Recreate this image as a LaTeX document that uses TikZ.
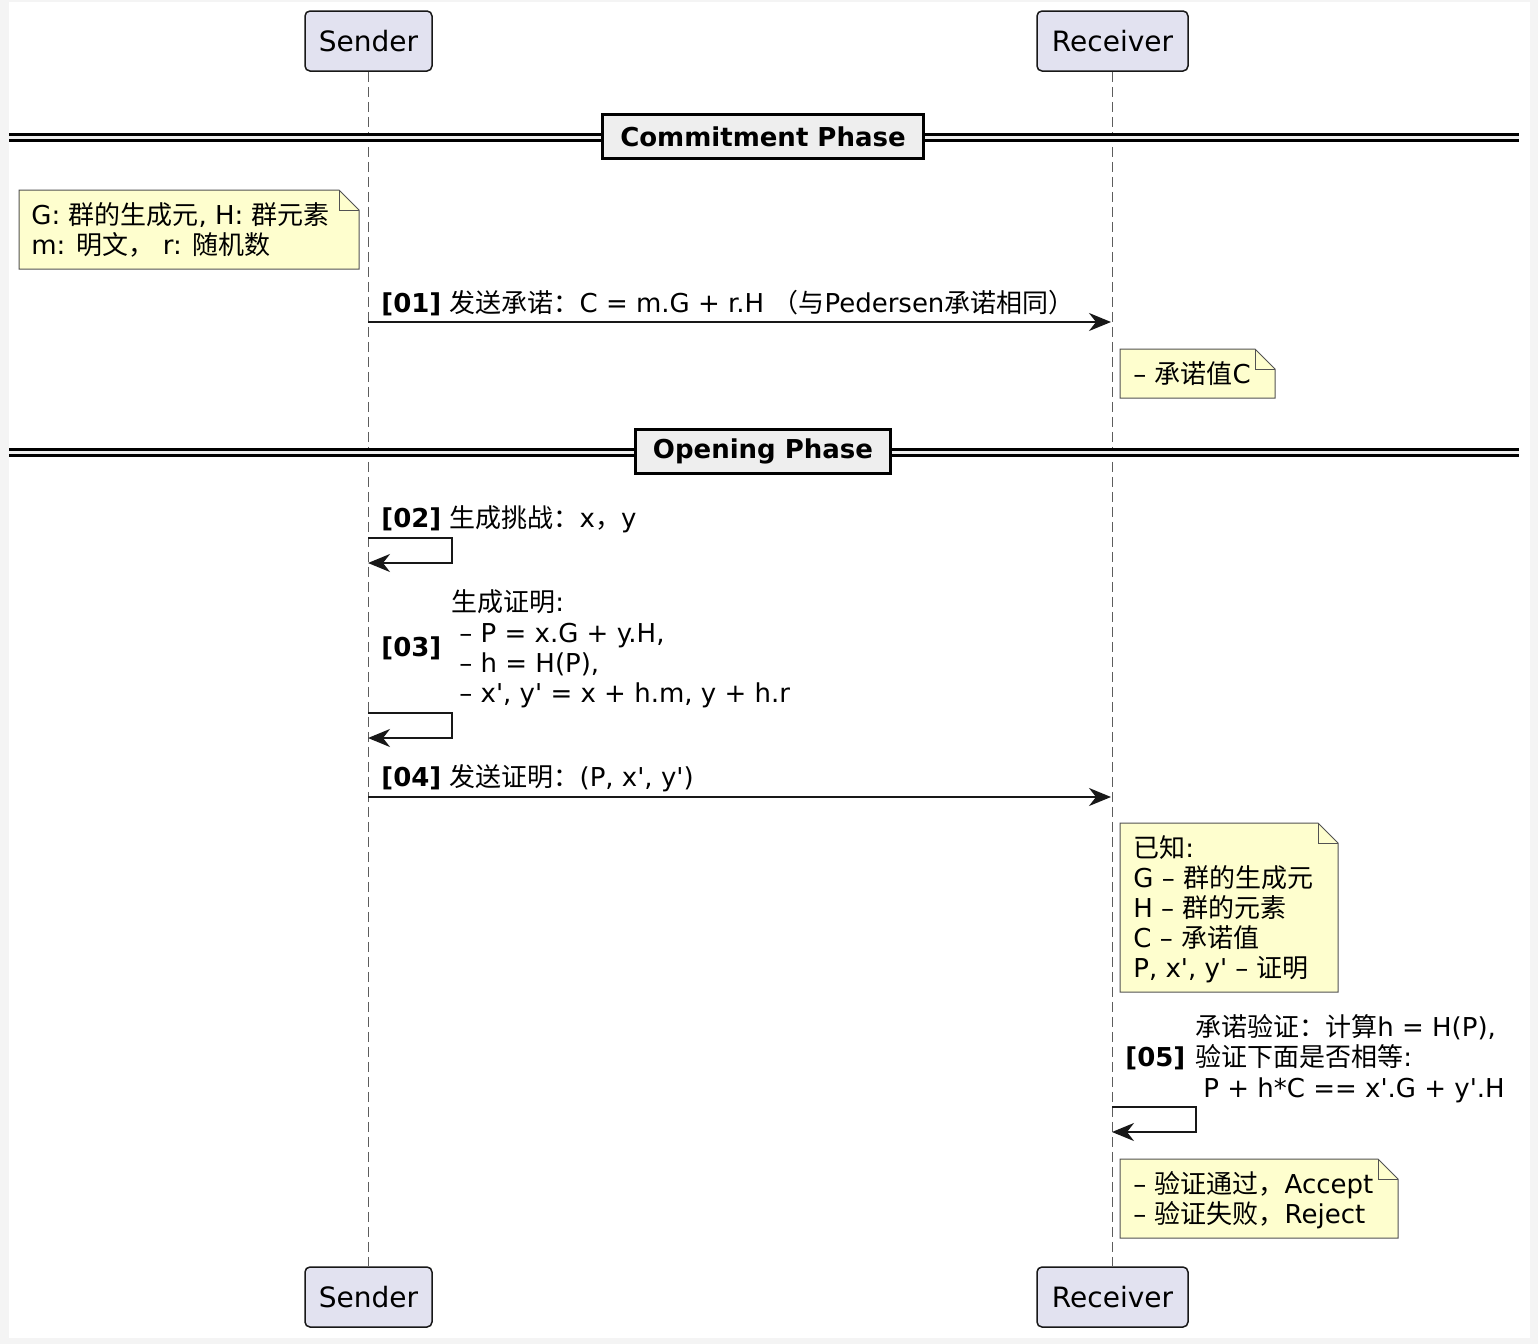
\documentclass[tikz,border=0pt]{standalone}
\usepackage{fontspec}
\setmainfont{DejaVu Sans}
\newfontfamily\lat{DejaVu Sans}
\newfontfamily\cjk{Noto Sans CJK SC}
\usetikzlibrary{arrows.meta}
\definecolor{notefill}{HTML}{FEFECE}
\definecolor{partfill}{HTML}{E2E2F0}
\definecolor{edge}{HTML}{181818}
\definecolor{sepfill}{HTML}{EEEEEE}
\definecolor{pagegray}{HTML}{F4F4F4}
\newcommand\zh[1]{{\cjk #1}}
\newcommand\seq[1]{{\lat\bfseries #1}}
\tikzset{
  part/.style={draw=edge, fill=partfill, line width=0.75pt, rounded corners=2.5pt,
    minimum height=30pt, inner sep=0pt, font=\lat\fontsize{14}{16}\selectfont},
  life/.style={draw=edge!70, line width=0.5pt, dash pattern=on 5pt off 2.5pt},
  msg/.style={draw=edge, line width=1pt, -{Stealth[length=11pt,width=9pt,inset=3.5pt]}},
  txt/.style={inner sep=0pt, anchor=base west, font=\lat\fontsize{13}{15}\selectfont},
  memo/.style={draw=edge!75, fill=notefill, line width=0.5pt},
  phase/.style={draw=black, fill=sepfill, line width=1.5pt, minimum height=22pt,
    inner sep=0pt, font=\lat\bfseries\fontsize{13}{15}\selectfont},
  sep/.style={draw=black, line width=1.3pt},
}
\newcommand\notebox[4]{%
  \draw[memo] (#1,#2) -- (#3-20,#2) -- (#3,#2+20) -- (#3,#4) -- (#1,#4) -- cycle;
  \draw[memo, fill=none] (#3-20,#2) -- (#3-20,#2+20) -- (#3,#2+20);}
\newcommand\phaseline[1]{%
  \fill[sepfill] (9,#1-3.5) rectangle (1519,#1+3.5);
  \draw[sep] (9,#1-3) -- (1519,#1-3) (9,#1+3) -- (1519,#1+3);}

\begin{document}
\begin{tikzpicture}[x=0.5pt, y=-0.5pt]
  \useasboundingbox (0,0) rectangle (1538,1344);
  \fill[pagegray] (0,0) rectangle (1538,1344);
  \fill[white] (9,2) rectangle (1530,1338);

  \node[part, minimum width=63.5pt] (s) at (368.5,41) {Sender};
  \node[part, minimum width=75.5pt] (r) at (1112.5,41) {Receiver};
  \node[part, minimum width=63.5pt] (s2) at (368.5,1297) {Sender};
  \node[part, minimum width=75.5pt] (r2) at (1112.5,1297) {Receiver};
  \draw[life] (s.south) -- (s2.north);
  \draw[life] (r.south) -- (r2.north);

  \phaseline{137.5}
  \node[phase, minimum width=160.5pt] (ph1) at (763,136.5) {Commitment Phase};

  \notebox{19}{190}{359}{269}
  \node[txt] (n1a) at (31,224) {G: \zh{群的生成元}, H: \zh{群元素}};
  \node[txt] (n1b) at (31,254) {m: \zh{明文，} r: \zh{随机数}};

  \node[txt] (t1) at (381,312) {\seq{[01]} \zh{发送承诺：}C = m.G + r.H \zh{（与}Pedersen\zh{承诺相同）}};
  \coordinate (a1) at (368,322);
  \coordinate (b1) at (1111,322);
  \draw[msg] (a1) -- (b1);

  \notebox{1120}{349}{1275}{398}
  \node[txt] (n2) at (1133,383) {– \zh{承诺值}C};

  \phaseline{452.5}
  \node[phase, minimum width=127.5pt] (ph2) at (763,451.5) {Opening Phase};

  \node[txt] (t2) at (381,527) {\seq{[02]} \zh{生成挑战：}x\zh{，}y};
  \coordinate (a2) at (368,538);
  \coordinate (b2) at (368,563);
  \draw[msg] (a2) -- ++(84,0) |- (b2);

  \node[txt] (t3) at (381,656) {\seq{[03]}};
  \node[txt] (t3a) at (451,611) {\zh{生成证明}:};
  \node[txt] (t3b) at (459,642) {– P = x.G + y.H,};
  \node[txt] (t3c) at (459,672) {– h = H(P),};
  \node[txt] (t3d) at (459,702) {– x', y' = x + h.m, y + h.r};
  \coordinate (a3) at (368,713);
  \coordinate (b3) at (368,738);
  \draw[msg] (a3) -- ++(84,0) |- (b3);

  \node[txt] (t4) at (381,786) {\seq{[04]} \zh{发送证明：}(P, x', y')};
  \coordinate (a4) at (368,797);
  \coordinate (b4) at (1111,797);
  \draw[msg] (a4) -- (b4);

  \notebox{1120}{823}{1338}{992}
  \node[txt] (n3a) at (1133,857) {\zh{已知}:};
  \node[txt] (n3b) at (1133,887) {G – \zh{群的生成元}};
  \node[txt] (n3c) at (1133,917) {H – \zh{群的元素}};
  \node[txt] (n3d) at (1133,947) {C – \zh{承诺值}};
  \node[txt] (n3e) at (1133,977) {P, x', y' – \zh{证明}};

  \node[txt] (t5a) at (1195,1036) {\zh{承诺验证：计算}h = H(P),};
  \node[txt] (t5) at (1125,1066) {\seq{[05]}};
  \node[txt] (t5b) at (1195,1066) {\zh{验证下面是否相等}:};
  \node[txt] (t5c) at (1203,1097) {P + h*C == x'.G + y'.H};
  \coordinate (a5) at (1112,1107);
  \coordinate (b5) at (1112,1132);
  \draw[msg] (a5) -- ++(84,0) |- (b5);

  \notebox{1120}{1159}{1398}{1238}
  \node[txt] (n4a) at (1133,1193) {– \zh{验证通过，}Accept};
  \node[txt] (n4b) at (1133,1223) {– \zh{验证失败，}Reject};
\end{tikzpicture}
\end{document}
